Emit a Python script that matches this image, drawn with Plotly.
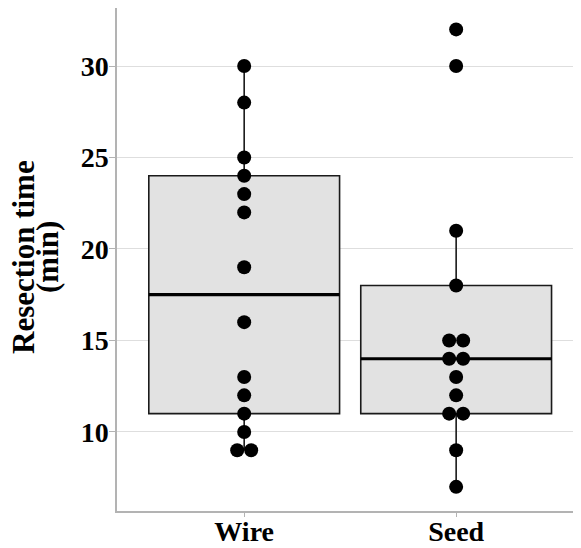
import plotly.graph_objects as go
from collections import Counter

# ---- data ----
groups = ["Wire", "Seed"]
wire_times = [30, 28, 25, 24, 23, 22, 19, 16, 13, 12, 11, 10, 9, 9]
seed_times = [32, 30, 21, 18, 15, 15, 14, 14, 13, 12, 11, 11, 9, 7]
# box statistics (Tukey hinges)
q1 = [11, 11]
median = [17.5, 14]
q3 = [24, 18]
lower_fence = [9, 7]
upper_fence = [30, 21]
y_ticks = [10, 15, 20, 25, 30]

FONT = "Liberation Serif"
DOT_W = 0.066   # dot width in x-axis units (for side-by-side stacking)
BOX_W = 0.9

fig = go.Figure()

positions = list(range(len(groups)))
fig.add_trace(go.Box(
    x=positions, q1=q1, median=median, q3=q3,
    lowerfence=lower_fence, upperfence=upper_fence,
    width=BOX_W, whiskerwidth=0, boxpoints=False,
    fillcolor="#e2e2e2", line=dict(color="#1a1a1a", width=1.6),
    showlegend=False, hoverinfo="skip",
))

# thicker median lines
for i, m in enumerate(median):
    fig.add_shape(type="line", x0=i - BOX_W / 2, x1=i + BOX_W / 2, y0=m, y1=m,
                  xref="x", yref="y", line=dict(color="black", width=3.2))

# dot plot points, duplicates spread side by side
for i, vals in enumerate([wire_times, seed_times]):
    counts = Counter(vals)
    xs, ys = [], []
    for v, k in counts.items():
        for j in range(k):
            xs.append(i + (j - (k - 1) / 2) * DOT_W)
            ys.append(v)
    fig.add_trace(go.Scatter(
        x=xs, y=ys, mode="markers",
        marker=dict(color="black", size=14, line=dict(width=0)),
        showlegend=False, hoverinfo="skip",
    ))

# page body has an 8px margin, so the figure is 8px smaller than the window
fig.update_layout(
    width=573, height=540,
    margin=dict(l=109, r=0, t=0, b=37),
    plot_bgcolor="white", paper_bgcolor="white",
    font=dict(family=FONT, color="black"),
    xaxis=dict(
        range=[-0.6, 1.589], tickvals=positions, ticktext=groups,
        showgrid=False, zeroline=False, automargin=False,
        showline=True, mirror=True, linecolor="#b3b3b3", linewidth=1.5,
        ticks="outside", ticklen=4, tickcolor="#b3b3b3", tickwidth=1.2,
        ticklabelstandoff=-9,
        tickfont=dict(family=FONT, size=28, color="black", weight="bold"),
    ),
    yaxis=dict(
        range=[5.68, 33.17], tickvals=y_ticks,
        showgrid=True, gridcolor="#dedede", gridwidth=1.2, zeroline=False,
        automargin=False,
        showline=True, mirror=True, linecolor="#b3b3b3", linewidth=1.5,
        ticks="outside", ticklen=6, tickcolor="#b3b3b3", tickwidth=1.2,
        ticklabelstandoff=-5,
        tickfont=dict(family=FONT, size=28, color="black", weight="bold"),
    ),
    annotations=[
        dict(text="Resection time", xref="paper", yref="paper", x=0, y=0.505,
             xanchor="center", yanchor="middle", xshift=-93, textangle=-90,
             showarrow=False, font=dict(family=FONT, size=31, color="black", weight="bold")),
        dict(text="(min)", xref="paper", yref="paper", x=0, y=0.505,
             xanchor="center", yanchor="middle", xshift=-69, textangle=-90,
             showarrow=False, font=dict(family=FONT, size=31, color="black", weight="bold")),
    ],
)

fig.write_html("out.html")
